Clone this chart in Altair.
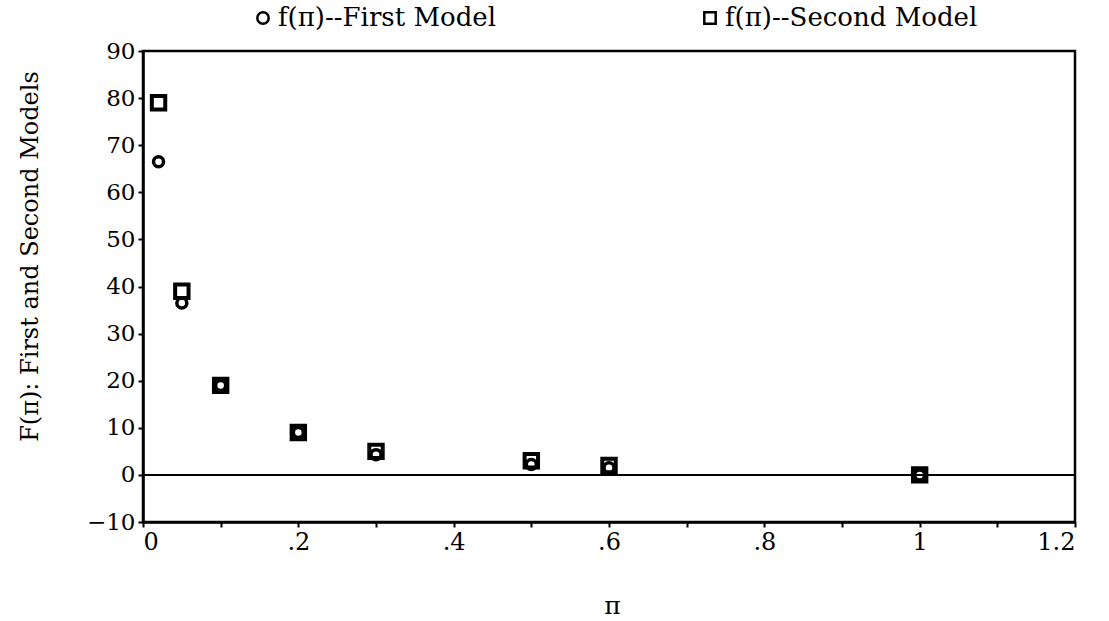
import altair as alt
import pandas as pd

pi_values = [0.02, 0.05, 0.1, 0.2, 0.3, 0.5, 0.6, 1.0]
first_model = [66.5, 36.5, 19.0, 9.0, 4.3, 2.2, 1.5, 0.0]
second_model = [79.0, 39.0, 19.0, 9.0, 5.0, 3.0, 2.0, 0.0]
series_names = ["f(π)--First Model", "f(π)--Second Model"]
series_shapes = ["circle", "square"]
x_ticks = [round(i * 0.1, 1) for i in range(13)]
y_ticks = list(range(-10, 91, 5))

rows = []
for x, a, b in zip(pi_values, first_model, second_model):
    rows.append({"pi": x, "F": a, "series": series_names[0]})
    rows.append({"pi": x, "F": b, "series": series_names[1]})
df = pd.DataFrame(rows)

FONT = "DejaVu Serif"

x_scale = alt.Scale(domain=[0, 1.2], nice=False, zero=False)
y_scale = alt.Scale(domain=[-10, 90], nice=False, zero=False)

x_enc = alt.X("pi:Q", scale=x_scale,
              axis=alt.Axis(values=x_ticks, format=".1~f", title="π",
                            labelExpr="round(datum.value*10) % 2 == 0 ? replace(datum.label, '0.', '.') : ''",
                            labelFontSize=24,
                            titleX=469, titleY=83, titleAlign="center", titleBaseline="middle",
                            titleFontSize=25, titleFontWeight="normal"))
y_enc = alt.Y("F:Q", scale=y_scale,
              axis=alt.Axis(values=y_ticks, title="F(π): First and Second Models",
                            labelExpr="datum.value % 10 == 0 ? datum.label : ''",
                            labelFontSize=23,
                            titleX=-113, titleY=205, titleAngle=-90, titleAlign="center",
                            titleBaseline="middle", titleFontSize=24, titleFontWeight="normal"))
shape_enc = alt.Shape("series:N", scale=alt.Scale(domain=series_names, range=series_shapes),
                      legend=alt.Legend(title=None, orient="none", direction="horizontal",
                                        legendX=107, legendY=-46, columnPadding=200,
                                        symbolStrokeWidth=2.5, symbolSize=130,
                                        symbolStrokeColor="black", symbolFillColor="transparent",
                                        labelFontSize=26, labelFont=FONT, labelColor="black",
                                        labelOffset=2, labelLimit=400))

base = alt.Chart(df).encode(x=x_enc, y=y_enc, shape=shape_enc)
circles = base.transform_filter(alt.datum.series == series_names[0]).mark_point(
    filled=False, strokeWidth=3.5, color="black", opacity=1, size=100)
squares = base.transform_filter(alt.datum.series == series_names[1]).mark_point(
    filled=False, strokeWidth=4, color="black", opacity=1, size=180)

zero_df = pd.DataFrame({"y": [0]})
zero_line = alt.Chart(zero_df).mark_rule(color="black", strokeWidth=2).encode(y=alt.Y("y:Q", scale=y_scale))

chart = alt.layer(zero_line, circles, squares).properties(
    width=932, height=471,
    background="white",
    autosize=alt.AutoSizeParams(type="none"),
    padding={"left": 143, "top": 51, "right": 34, "bottom": 99},
).configure_view(stroke="black", strokeWidth=2.5).configure_axis(
    labelFont=FONT, titleFont=FONT, labelColor="black", titleColor="black",
    domainColor="black", domainWidth=2.5, tickColor="black", tickSize=5, tickWidth=2,
    grid=False, labelPadding=3,
)

chart.save("out.html", embed_options={"renderer": "svg", "actions": False})
